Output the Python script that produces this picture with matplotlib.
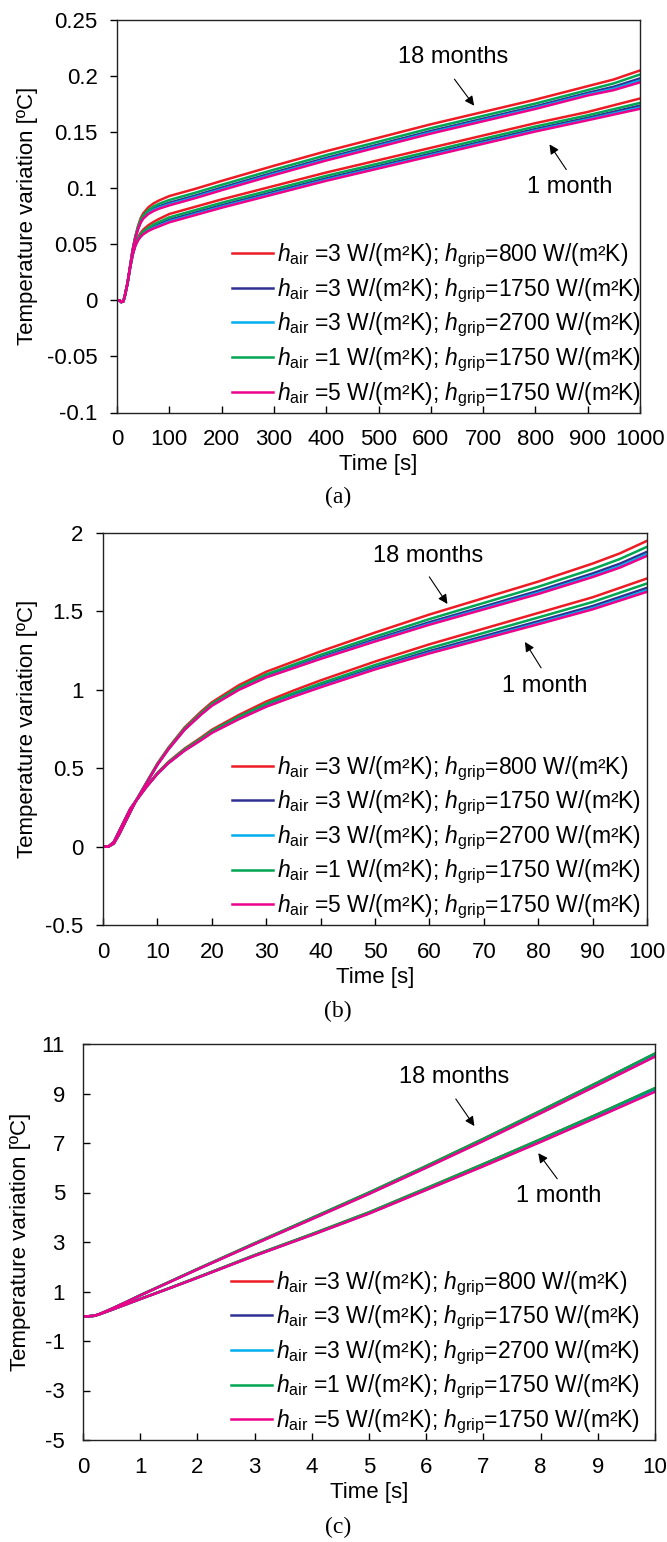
import matplotlib
matplotlib.use("Agg")
import matplotlib.pyplot as plt

plt.rcParams["font.family"] = ["Liberation Sans", "DejaVu Sans"]
plt.rcParams["mathtext.fontset"] = "custom"
plt.rcParams["mathtext.rm"] = "Liberation Sans"
plt.rcParams["mathtext.it"] = "Liberation Sans:italic"

# five cases, same order as the legend
colors = ["#ED1C24", "#2E3192", "#00AEEF", "#00A651", "#EC008C"]
case_labels = [
    r"$h_{\mathrm{air}}$ =3 W/(m²K); $h_{\mathrm{grip}}$=800 W/(m²K)",
    r"$h_{\mathrm{air}}$ =3 W/(m²K); $h_{\mathrm{grip}}$=1750 W/(m²K)",
    r"$h_{\mathrm{air}}$ =3 W/(m²K); $h_{\mathrm{grip}}$=2700 W/(m²K)",
    r"$h_{\mathrm{air}}$ =1 W/(m²K); $h_{\mathrm{grip}}$=1750 W/(m²K)",
    r"$h_{\mathrm{air}}$ =5 W/(m²K); $h_{\mathrm{grip}}$=1750 W/(m²K)",
]

# ---- (a) 0-1000 s ----
t_a = [0, 5, 8, 12, 15, 20, 25, 30, 35, 40, 45, 50, 60, 70, 80, 100, 150, 200, 300, 400, 500, 600, 700, 800, 900, 950, 1000]
a18_red = [0, 0, -0.0015, -0.001, 0.004, 0.015, 0.03, 0.045, 0.057, 0.066, 0.073, 0.0775, 0.083, 0.0865, 0.089, 0.093, 0.0995, 0.1065, 0.12, 0.133, 0.145, 0.157, 0.168, 0.179, 0.191, 0.197, 0.205]
a18_blue = [0, 0, -0.0015, -0.001, 0.004, 0.015, 0.03, 0.045, 0.056, 0.064, 0.0703, 0.0742, 0.0788, 0.0817, 0.0838, 0.087, 0.0935, 0.1005, 0.114, 0.127, 0.139, 0.151, 0.162, 0.173, 0.185, 0.1905, 0.1979]
a18_cyan = [0, 0, -0.0015, -0.001, 0.004, 0.015, 0.03, 0.045, 0.0558, 0.0635, 0.0697, 0.0735, 0.078, 0.0807, 0.0827, 0.0857, 0.0922, 0.0992, 0.1127, 0.1257, 0.1377, 0.1497, 0.1607, 0.1717, 0.1837, 0.1888, 0.1961]
a18_green = [0, 0, -0.0015, -0.001, 0.004, 0.015, 0.03, 0.045, 0.0565, 0.065, 0.0715, 0.0755, 0.0805, 0.0837, 0.086, 0.0895, 0.096, 0.103, 0.1165, 0.1295, 0.1415, 0.1535, 0.1645, 0.1755, 0.1875, 0.1935, 0.2014]
a18_magenta = [0, 0, -0.0015, -0.001, 0.004, 0.015, 0.03, 0.045, 0.0555, 0.063, 0.069, 0.0728, 0.077, 0.0797, 0.0817, 0.0847, 0.0912, 0.0982, 0.1117, 0.1247, 0.1367, 0.1487, 0.1597, 0.1707, 0.1827, 0.1875, 0.1944]
a1_red = [0, 0, -0.0015, -0.001, 0.004, 0.015, 0.029, 0.041, 0.05, 0.056, 0.06, 0.063, 0.067, 0.070, 0.0725, 0.077, 0.0835, 0.090, 0.102, 0.114, 0.125, 0.136, 0.147, 0.158, 0.168, 0.174, 0.180]
a1_blue = [0, 0, -0.0015, -0.001, 0.004, 0.015, 0.029, 0.041, 0.049, 0.0542, 0.0576, 0.0601, 0.0634, 0.0658, 0.0679, 0.0718, 0.0783, 0.0848, 0.0968, 0.1088, 0.1198, 0.1308, 0.1418, 0.1528, 0.1628, 0.1682, 0.1737]
a1_cyan = [0, 0, -0.0015, -0.001, 0.004, 0.015, 0.029, 0.041, 0.0488, 0.0538, 0.057, 0.0594, 0.0625, 0.0648, 0.0667, 0.0705, 0.077, 0.0835, 0.0955, 0.1075, 0.1185, 0.1295, 0.1405, 0.1515, 0.1615, 0.1667, 0.172]
a1_green = [0, 0, -0.0015, -0.001, 0.004, 0.015, 0.029, 0.041, 0.0495, 0.055, 0.0586, 0.0613, 0.0649, 0.0676, 0.0698, 0.074, 0.0805, 0.087, 0.099, 0.111, 0.122, 0.133, 0.144, 0.155, 0.165, 0.1705, 0.1761]
a1_magenta = [0, 0, -0.0015, -0.001, 0.004, 0.015, 0.029, 0.041, 0.0486, 0.0534, 0.0566, 0.0589, 0.0619, 0.0641, 0.0659, 0.0696, 0.0761, 0.0826, 0.0946, 0.1066, 0.1176, 0.1286, 0.1396, 0.1506, 0.1606, 0.1657, 0.1708]

# ---- (b) 0-100 s ----
t_b = [0, 1, 2, 3, 4, 5, 6, 8, 10, 12, 15, 18, 20, 25, 30, 35, 40, 50, 60, 70, 80, 90, 95, 100]
b18_red = [0, 0, 0.02, 0.08, 0.15, 0.22, 0.29, 0.41, 0.53, 0.63, 0.76, 0.86, 0.92, 1.03, 1.115, 1.18, 1.245, 1.365, 1.48, 1.585, 1.69, 1.805, 1.87, 1.95]
b18_blue = [0, 0, 0.02, 0.08, 0.15, 0.22, 0.288, 0.406, 0.524, 0.622, 0.749, 0.845, 0.903, 1.007, 1.087, 1.147, 1.208, 1.322, 1.431, 1.531, 1.631, 1.742, 1.804, 1.88]
b18_cyan = [0, 0, 0.02, 0.08, 0.15, 0.22, 0.288, 0.405, 0.522, 0.62, 0.746, 0.842, 0.90, 1.003, 1.082, 1.141, 1.201, 1.313, 1.421, 1.52, 1.619, 1.728, 1.789, 1.865]
b18_green = [0, 0, 0.02, 0.08, 0.15, 0.22, 0.289, 0.408, 0.526, 0.625, 0.753, 0.851, 0.91, 1.016, 1.098, 1.16, 1.223, 1.339, 1.451, 1.554, 1.657, 1.77, 1.834, 1.912]
b18_magenta = [0, 0, 0.02, 0.08, 0.15, 0.22, 0.287, 0.404, 0.521, 0.619, 0.745, 0.841, 0.898, 1.0, 1.079, 1.138, 1.197, 1.308, 1.415, 1.513, 1.611, 1.719, 1.779, 1.854]
b1_red = [0, 0, 0.03, 0.1, 0.17, 0.24, 0.29, 0.385, 0.47, 0.54, 0.625, 0.695, 0.745, 0.84, 0.925, 0.995, 1.06, 1.18, 1.29, 1.39, 1.49, 1.59, 1.65, 1.71]
b1_blue = [0, 0, 0.03, 0.1, 0.17, 0.24, 0.289, 0.382, 0.465, 0.533, 0.615, 0.683, 0.731, 0.821, 0.901, 0.966, 1.027, 1.142, 1.247, 1.342, 1.437, 1.534, 1.592, 1.65]
b1_cyan = [0, 0, 0.03, 0.1, 0.17, 0.24, 0.288, 0.381, 0.464, 0.532, 0.613, 0.68, 0.727, 0.816, 0.895, 0.96, 1.02, 1.134, 1.237, 1.331, 1.425, 1.521, 1.578, 1.635]
b1_green = [0, 0, 0.03, 0.1, 0.17, 0.24, 0.289, 0.383, 0.467, 0.536, 0.62, 0.688, 0.737, 0.829, 0.911, 0.978, 1.041, 1.158, 1.265, 1.363, 1.461, 1.56, 1.619, 1.678]
b1_magenta = [0, 0, 0.03, 0.1, 0.17, 0.24, 0.288, 0.381, 0.463, 0.531, 0.612, 0.678, 0.725, 0.813, 0.892, 0.956, 1.016, 1.13, 1.232, 1.325, 1.418, 1.513, 1.569, 1.625]

# ---- (c) 0-10 s ----
t_c = [0, 0.1, 0.2, 0.3, 0.5, 0.75, 1, 1.5, 2, 3, 4, 5, 6, 7, 8, 9, 10]
c18_red = [0, 0, 0.02, 0.1, 0.3, 0.57, 0.85, 1.38, 1.91, 2.95, 3.97, 5.0, 6.07, 7.17, 8.3, 9.45, 10.61]
c18_blue = [0, 0, 0.02, 0.1, 0.3, 0.57, 0.845, 1.372, 1.9, 2.93, 3.95, 4.97, 6.03, 7.13, 8.25, 9.4, 10.55]
c18_cyan = [0, 0, 0.02, 0.1, 0.3, 0.565, 0.84, 1.368, 1.893, 2.92, 3.93, 4.95, 6.01, 7.1, 8.22, 9.36, 10.51]
c18_green = [0, 0, 0.02, 0.1, 0.3, 0.57, 0.85, 1.38, 1.91, 2.95, 3.97, 5.0, 6.07, 7.17, 8.3, 9.45, 10.62]
c18_magenta = [0, 0, 0.02, 0.1, 0.3, 0.565, 0.84, 1.365, 1.89, 2.915, 3.92, 4.94, 6.0, 7.08, 8.2, 9.34, 10.49]
c1_red = [0, 0, 0.02, 0.09, 0.26, 0.48, 0.7, 1.13, 1.57, 2.47, 3.32, 4.2, 5.17, 6.15, 7.15, 8.17, 9.21]
c1_blue = [0, 0, 0.02, 0.09, 0.26, 0.478, 0.696, 1.124, 1.56, 2.455, 3.3, 4.17, 5.13, 6.1, 7.09, 8.11, 9.14]
c1_cyan = [0, 0, 0.02, 0.09, 0.26, 0.476, 0.693, 1.12, 1.555, 2.445, 3.285, 4.155, 5.11, 6.08, 7.06, 8.07, 9.1]
c1_green = [0, 0, 0.02, 0.09, 0.26, 0.48, 0.7, 1.13, 1.57, 2.47, 3.32, 4.2, 5.17, 6.15, 7.15, 8.17, 9.22]
c1_magenta = [0, 0, 0.02, 0.09, 0.26, 0.475, 0.692, 1.118, 1.552, 2.44, 3.28, 4.145, 5.1, 6.06, 7.04, 8.05, 9.07]

# axis ticks
xticks_a = list(range(0, 1001, 100))
xticks_b = list(range(0, 101, 10))
xticks_c = list(range(0, 11, 1))
yticks_a = [-0.1, -0.05, 0, 0.05, 0.1, 0.15, 0.2, 0.25]
ylabels_a = ["-0.1", "-0.05", "0", "0.05", "0.1", "0.15", "0.2", "0.25"]
yticks_b = [-0.5, 0, 0.5, 1, 1.5, 2]
ylabels_b = ["-0.5", "0", "0.5", "1", "1.5", "2"]
yticks_c = [-5, -3, -1, 1, 3, 5, 7, 9, 11]
ylabels_c = ["-5", "-3", "-1", "1", "3", "5", "7", "9", "11"]

panels = [
    dict(t=t_a, up=[a18_red, a18_blue, a18_cyan, a18_green, a18_magenta],
         low=[a1_red, a1_blue, a1_cyan, a1_green, a1_magenta],
         xt=xticks_a, yt=yticks_a, yl=ylabels_a,
         rect=[117/667, 1-412.5/1542, 523/667, 392.5/1542], ydir="out", ylab_x=-0.151,
         leg_x=0.220, tag="(a)", tag_y=1-497/1542,
         m18=[(0.642, 0.906), (0.642, 0.855), (0.686, 0.776)],
         m1=[(0.866, 0.575), (0.862, 0.613), (0.824, 0.689)]),
    dict(t=t_b, up=[b18_red, b18_blue, b18_cyan, b18_green, b18_magenta],
         low=[b1_red, b1_blue, b1_cyan, b1_green, b1_magenta],
         xt=xticks_b, yt=yticks_b, yl=ylabels_b,
         rect=[103/667, 1-925/1542, 544/667, 392/1542], ydir="out", ylab_x=-0.1195,
         leg_x=0.237, tag="(b)", tag_y=1-1011/1542,
         m18=[(0.597, 0.942), (0.597, 0.894), (0.636, 0.813)],
         m1=[(0.812, 0.609), (0.808, 0.650), (0.773, 0.728)]),
    dict(t=t_c, up=[c18_red, c18_blue, c18_cyan, c18_green, c18_magenta],
         low=[c1_red, c1_blue, c1_cyan, c1_green, c1_magenta],
         xt=xticks_c, yt=yticks_c, yl=ylabels_c,
         rect=[83/667, 1-1440/1542, 572/667, 396/1542], ydir="in", ylab_x=-0.091,
         leg_x=0.258, tag="(c)", tag_y=1-1527/1542,
         m18=[(0.649, 0.916), (0.649, 0.867), (0.687, 0.787)],
         m1=[(0.832, 0.616), (0.832, 0.654), (0.793, 0.730)]),
]

fig = plt.figure(figsize=(6.67, 15.42), dpi=100)

for p in panels:
    ax = fig.add_axes(p["rect"])
    lines = []
    for i in range(5):
        ax.plot(p["t"], p["low"][i], color=colors[i], lw=1.8)
        ln, = ax.plot(p["t"], p["up"][i], color=colors[i], lw=1.8, label=case_labels[i])
        lines.append(ln)

    ax.set_xlim(p["xt"][0], p["xt"][-1])
    ax.set_ylim(p["yt"][0], p["yt"][-1])
    ax.set_xticks(p["xt"])
    ax.set_yticks(p["yt"])
    ax.set_yticklabels(p["yl"])
    ax.tick_params(axis="x", direction="in", length=5, width=1, pad=12, labelsize=16)
    ax.tick_params(axis="y", direction=p["ydir"], length=5, width=1,
                   pad=9 if p["ydir"] == "out" else 13, labelsize=16)
    for s in ax.spines.values():
        s.set_linewidth(1.0)
        s.set_color("#222222")

    ax.set_xlabel("Time [s]", fontsize=16, labelpad=3)
    ax.set_ylabel("Temperature variation [ºC]", fontsize=16)
    ax.yaxis.set_label_coords(p["ylab_x"], 0.5)

    ax.legend(handles=lines, loc="lower left", bbox_to_anchor=(p["leg_x"], 0.010),
              frameon=False, fontsize=16.5, borderpad=0, borderaxespad=0,
              handlelength=1.8, handletextpad=0.17, labelspacing=0.27)

    # period labels with arrows
    txt, tail, head = p["m18"]
    ax.text(txt[0], txt[1], "18 months", transform=ax.transAxes, fontsize=17,
            ha="center", va="center")
    ax.annotate("", xy=head, xytext=tail, xycoords="axes fraction",
                arrowprops=dict(arrowstyle="-|>", color="black", lw=0.8, mutation_scale=14))
    txt, tail, head = p["m1"]
    ax.text(txt[0], txt[1], "1 month", transform=ax.transAxes, fontsize=17,
            ha="center", va="center")
    ax.annotate("", xy=head, xytext=tail, xycoords="axes fraction",
                arrowprops=dict(arrowstyle="-|>", color="black", lw=0.8, mutation_scale=14))

    fig.text(0.507, p["tag_y"], p["tag"], family="Liberation Serif", fontsize=17,
             ha="center", va="center")

fig.savefig("out.png", dpi=100)
